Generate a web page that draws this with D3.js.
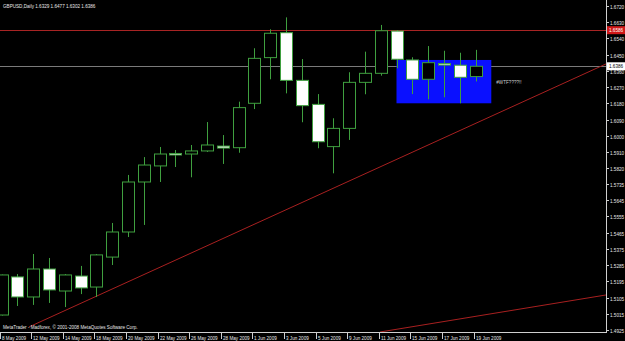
<!DOCTYPE html>
<html>
<head>
<meta charset="utf-8">
<script src="https://cdn.jsdelivr.net/npm/d3@7"></script>
<style>
  html, body { margin: 0; padding: 0; background: #000; overflow: hidden; }
  text { font-family: "Liberation Sans", Arial, sans-serif; fill: #e8e8e8; font-size: 5.5px; }
</style>
</head>
<body>
<script>
const dates  = ["8 May 2009","11 May 2009","12 May 2009","13 May 2009","14 May 2009","15 May 2009",
                "18 May 2009","19 May 2009","20 May 2009","21 May 2009","22 May 2009",
                "25 May 2009","26 May 2009","27 May 2009","28 May 2009","29 May 2009",
                "1 Jun 2009","2 Jun 2009","3 Jun 2009","4 Jun 2009","5 Jun 2009",
                "8 Jun 2009","9 Jun 2009","10 Jun 2009","11 Jun 2009","12 Jun 2009",
                "15 Jun 2009","16 Jun 2009","17 Jun 2009","18 Jun 2009","19 Jun 2009"]
const opens  = [1.5008,1.5219,1.5108,1.5263,1.5141,1.5224,1.5163,1.5329,1.5468,1.5745,1.5834,
                1.5903,1.5900,1.5917,1.5944,1.5935,1.6181,1.6434,1.6572,1.6308,1.6175,
                1.5941,1.6042,1.6297,1.6347,1.6581,1.6421,1.6314,1.6401,1.6392,1.6329]
const highs  = [1.5232,1.5235,1.5346,1.5324,1.5235,1.5280,1.5346,1.5518,1.5784,1.5883,1.5939,
                1.5922,1.5950,1.6077,1.6005,1.6190,1.6486,1.6591,1.6657,1.6426,1.6232,
                1.6098,1.6353,1.6467,1.6615,1.6587,1.6436,1.6498,1.6472,1.6461,1.6477]
const lows   = [1.5005,1.5058,1.5064,1.5075,1.5052,1.5124,1.5108,1.5285,1.5440,1.5507,1.5745,
                1.5828,1.5771,1.5911,1.5845,1.5907,1.6149,1.6314,1.6236,1.6076,1.5932,
                1.5793,1.5978,1.6231,1.6334,1.6375,1.6232,1.6203,1.6214,1.6181,1.6302]
const closes = [1.5230,1.5108,1.5263,1.5147,1.5230,1.5158,1.5341,1.5468,1.5745,1.5839,1.5900,
                1.5897,1.5917,1.5950,1.5933,1.6157,1.6430,1.6569,1.6308,1.6168,1.5968,
                1.6042,1.6297,1.6347,1.6583,1.6425,1.6314,1.6406,1.6396,1.6325,1.6386]

const priceLabels = ["1.6720","1.6630","1.6540","1.6450","1.6360","1.6270","1.6180","1.6090",
                     "1.6000","1.5910","1.5820","1.5735","1.5645","1.5555","1.5465","1.5375",
                     "1.5285","1.5195","1.5105","1.5015","1.4925"]
const dateTickIdx = [0,2,4,6,8,10,12,14,16,18,20,22,24,26,28,30]

const resistance = 1.6586
// trend lines as [bar index, price] pairs
const trendLines = [
    [[1.74, 1.4942], [38.26, 1.6399]],
    [[23.96, 1.4914], [38.26, 1.5119]]
]
const box = { i0: 25, i1: 31, top: 1.6421, bottom: 1.6181, note: "#WTF????!!" }

const symbol = "GBPUSD,Daily"
const copyright = "MetaTrader - Madforex, © 2001-2008 MetaQuotes Software Corp."

const w = 625, h = 341
const plotRight = 606, plotBottom = 332
const squeeze = 0.84   // MT4 font is narrower than Liberation Sans

const bars = dates.map((d, i) => ({
    i: i, date: d, o: opens[i], h: highs[i], l: lows[i], c: closes[i]
}))
const last = bars[bars.length - 1]

const x = d3.scaleLinear().domain([0, 30]).range([1.5, 475.5])
const y = d3.scaleLinear().domain([1.4925, 1.6720]).range([330, 6])

const svg = d3.select("body").append("svg")
              .attr("width", w)
              .attr("height", h)
              .style("display", "block")

svg.append("rect").attr("width", w).attr("height", h).attr("fill", "#000")

// narrow text placed at (tx, ty)
const label = (parent, tx, ty, str) => parent.append("text")
    .attr("transform", "translate(" + tx + "," + ty + ") scale(" + squeeze + ",1)")
    .text(str)

svg.append("clipPath").attr("id", "plot")
   .append("rect").attr("x", 0).attr("y", 0).attr("width", plotRight).attr("height", plotBottom)

const plot = svg.append("g").attr("clip-path", "url(#plot)")

// resistance and bid lines
plot.append("line")
    .attr("x1", 0).attr("x2", plotRight)
    .attr("y1", Math.round(y(resistance)) + 0.5).attr("y2", Math.round(y(resistance)) + 0.5)
    .attr("stroke", "#a82424").attr("stroke-width", 1)

plot.append("line")
    .attr("x1", 0).attr("x2", plotRight)
    .attr("y1", Math.round(y(last.c)) + 0.5).attr("y2", Math.round(y(last.c)) + 0.5)
    .attr("stroke", "#7a7a7a").attr("stroke-width", 1)

// blue box
plot.append("rect")
    .attr("x", x(box.i0)).attr("y", y(box.top))
    .attr("width", x(box.i1) - x(box.i0))
    .attr("height", y(box.bottom) - y(box.top))
    .attr("fill", "#0a10ff")

label(plot, x(box.i1) + 5, y(box.bottom) - 19, box.note).style("fill", "#cfcfcf")

// trend lines
const line = d3.line().x(d => x(d[0])).y(d => y(d[1]))
plot.selectAll(".trend")
    .data(trendLines)
    .enter()
    .append("path")
    .attr("class", "trend")
    .attr("d", line)
    .attr("fill", "none")
    .attr("stroke", "#a82020")
    .attr("stroke-width", 1)

// candles
const green = "#3f9f3f"
const candle = plot.selectAll(".candle")
                   .data(bars)
                   .enter()
                   .append("g")
                   .attr("class", "candle")

candle.append("line")
      .attr("x1", d => Math.round(x(d.i)) + 0.5)
      .attr("x2", d => Math.round(x(d.i)) + 0.5)
      .attr("y1", d => y(d.h))
      .attr("y2", d => y(d.l))
      .attr("stroke", green)

candle.append("rect")
      .attr("x", d => Math.round(x(d.i)) - 5.5)
      .attr("y", d => y(Math.max(d.o, d.c)))
      .attr("width", 12)
      .attr("height", d => Math.max(1.5, Math.abs(y(d.o) - y(d.c))))
      .attr("fill", d => d.c >= d.o ? "#000" : "#fff")
      .attr("stroke", green)
      .attr("stroke-width", 1)

// price axis
svg.append("line")
   .attr("x1", plotRight + 0.5).attr("x2", plotRight + 0.5)
   .attr("y1", 0).attr("y2", plotBottom + 0.5)
   .attr("stroke", "#cfcfcf")

priceLabels.forEach(d => {
    const py = Math.round(y(+d))
    svg.append("line")
       .attr("x1", plotRight).attr("x2", plotRight + 3)
       .attr("y1", py + 0.5).attr("y2", py + 0.5)
       .attr("stroke", "#cfcfcf")
    label(svg, plotRight + 4, py + 2.5, d)
})

// price markers
const marker = (price, bg, fg) => {
    const py = y(price)
    svg.append("rect")
       .attr("x", plotRight + 1).attr("y", py - 4)
       .attr("width", 18).attr("height", 8)
       .attr("fill", bg)
    label(svg, plotRight + 3, py + 2, price.toFixed(4)).style("fill", fg)
}
marker(resistance, "#d01818", "#ffffff")
marker(last.c, "#ffffff", "#000000")

// time axis
svg.append("line")
   .attr("x1", 0).attr("x2", plotRight + 1)
   .attr("y1", plotBottom + 0.5).attr("y2", plotBottom + 0.5)
   .attr("stroke", "#cfcfcf")

dateTickIdx.forEach(d => {
    const px = Math.round(x(d))
    svg.append("line")
       .attr("x1", px - 1.5).attr("x2", px - 1.5)
       .attr("y1", plotBottom).attr("y2", plotBottom + 7)
       .attr("stroke", "#cfcfcf")
    label(svg, px, plotBottom + 7.5, dates[d])
})

// header and footer
label(svg, 3, 8, symbol + "  " + [last.o, last.h, last.l, last.c].map(v => v.toFixed(4)).join(" "))
label(svg, 3, 329, copyright)
</script>
</body>
</html>
